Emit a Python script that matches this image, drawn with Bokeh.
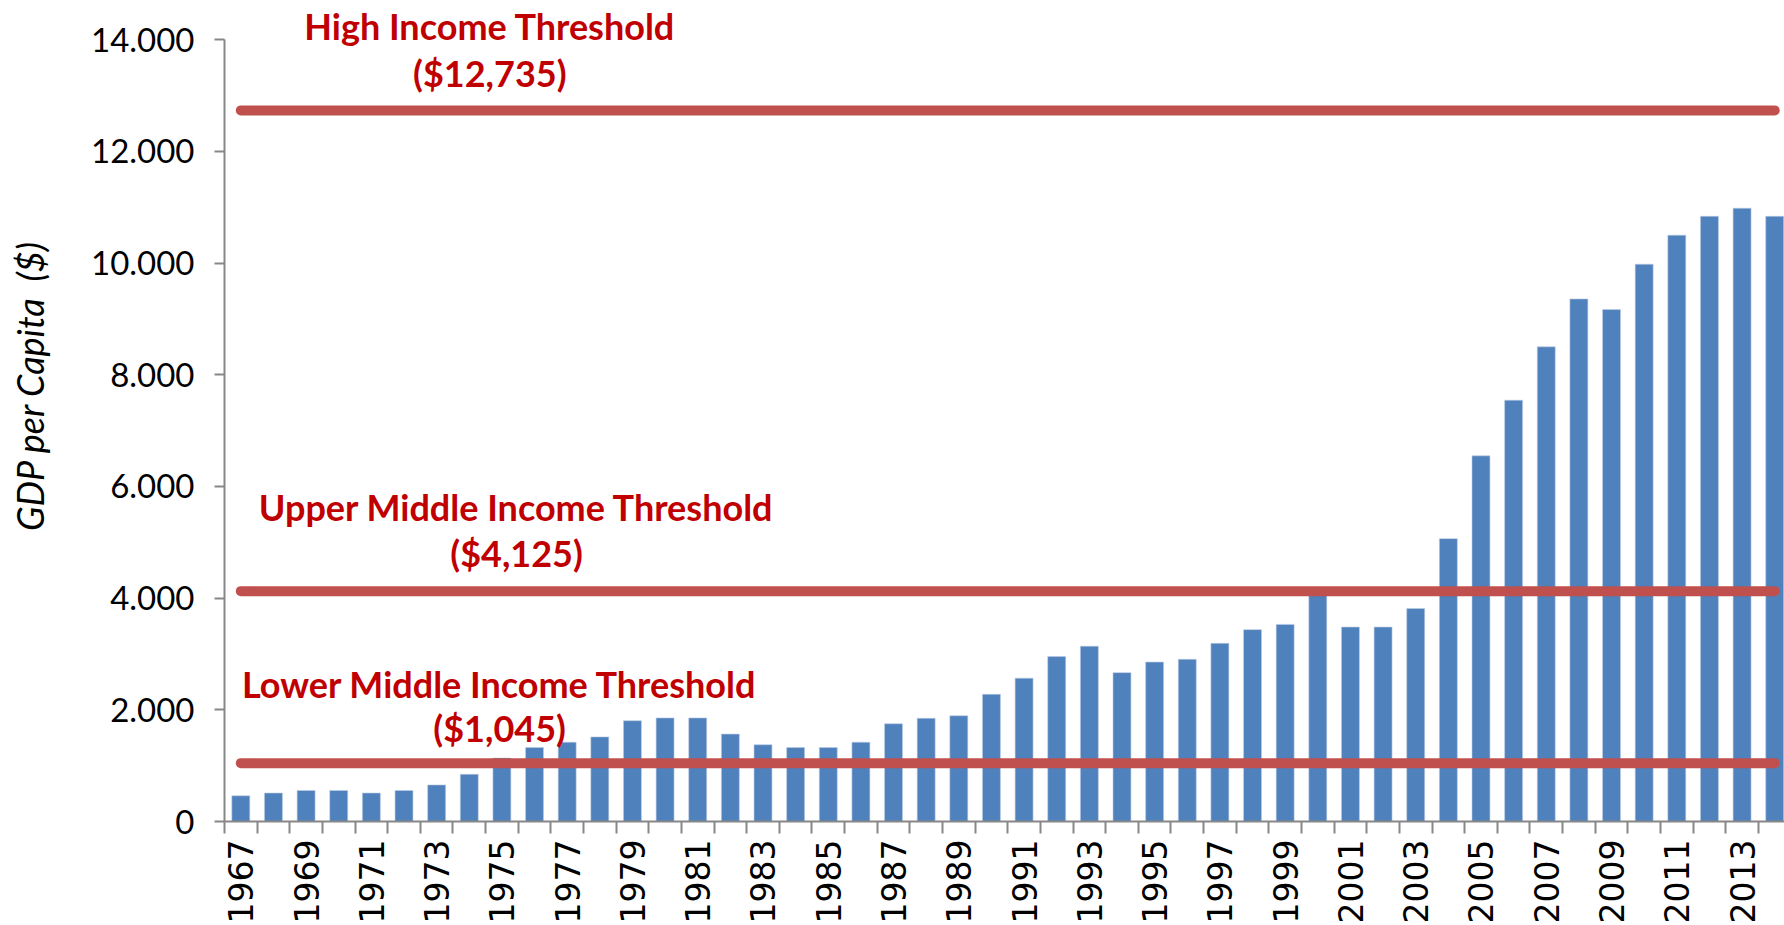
import math
from bokeh.plotting import figure
from bokeh.models import Range1d, FixedTicker, Label
from bokeh.embed import file_html
from bokeh.resources import INLINE

years = list(range(1967, 2015))
gdp = [460, 510, 555, 555, 510, 555, 655, 845, 1135, 1325,
       1420, 1515, 1805, 1855, 1855, 1565, 1375, 1325, 1325, 1420,
       1750, 1848, 1893, 2278, 2566, 2953, 3140, 2666, 2855, 2904,
       3190, 3436, 3530, 4090, 3482, 3482, 3815, 5065, 6548, 7545,
       8500, 9358, 9168, 9980, 10500, 10838, 10983, 10838]

threshold_values = [12735, 4125, 1045]
threshold_names = ["High Income Threshold", "Upper Middle Income Threshold",
                   "Lower Middle Income Threshold"]
threshold_amounts = ["($12,735)", "($4,125)", "($1,045)"]

y_ticks = [0, 2000, 4000, 6000, 8000, 10000, 12000, 14000]
y_tick_labels = ["0", "2.000", "4.000", "6.000", "8.000", "10.000", "12.000", "14.000"]
x_label_years = [y for y in years if y % 2 == 1]

FRAME_H = 821
PX_PER_UNIT = 0.05584
y_top = FRAME_H / PX_PER_UNIT

p = figure(frame_width=1560, frame_height=FRAME_H, output_backend="svg", toolbar_location=None,
           x_range=Range1d(years[0] - 0.5, years[-1] + 0.3),
           y_range=Range1d(0, y_top),
           min_border_left=224, min_border_top=0, min_border_bottom=0,
           min_border_right=0)
p.outline_line_color = None
p.xgrid.grid_line_color = None
p.ygrid.grid_line_color = None

p.vbar(x=years, top=gdp, width=0.55, color="#4F81BD", line_color="#BCCBE3", line_width=0.6)

for v in threshold_values:
    p.segment(x0=[years[0]], x1=[years[-1]], y0=[v], y1=[v], line_width=10,
              line_cap="round", line_color="#C0504D")

label_pos = [(1974.63, 14244, 13402), (1975.45, 5631, 4808), (1974.93, 2462, 1674)]
for (lx, ly1, ly2), name, amt in zip(label_pos, threshold_names, threshold_amounts):
    for txt, ly in ((name, ly1), (amt, ly2)):
        p.add_layout(Label(x=lx, y=ly, text=txt, text_align="center", text_baseline="middle",
                           text_font="Lato", text_font_style="bold", text_font_size="36px",
                           text_color="#C00000"))

# y axis
p.yaxis.bounds = (y_ticks[0], y_ticks[-1])
p.yaxis.ticker = FixedTicker(ticks=y_ticks, minor_ticks=[])
p.yaxis.major_label_overrides = {t: l for t, l in zip(y_ticks, y_tick_labels)}
p.yaxis.major_label_text_font = "Lato"
p.yaxis.major_label_text_font_size = "33px"
p.yaxis.major_label_text_color = "black"
p.yaxis.major_tick_out = 10
p.yaxis.major_tick_in = 0
p.yaxis.major_label_standoff = 20
p.yaxis.axis_line_color = "#878787"
p.yaxis.axis_line_width = 2
p.yaxis.major_tick_line_color = "#878787"
p.yaxis.major_tick_line_width = 2
p.yaxis.axis_label = "\u00a0" * 6 + "GDP per Capita\u00a0\u00a0($)"
p.yaxis.axis_label_text_font = "Lato"
p.yaxis.axis_label_text_font_style = "italic"
p.yaxis.axis_label_text_font_size = "36px"
p.yaxis.axis_label_text_color = "black"
p.yaxis.axis_label_standoff = 36

# x axis
p.xaxis.ticker = FixedTicker(ticks=x_label_years,
                             minor_ticks=[y - 0.5 for y in years] + [years[-1] + 0.5])
p.xaxis.major_label_overrides = {y: str(y) for y in x_label_years}
p.xaxis.major_label_orientation = math.pi / 2
p.xaxis.major_label_text_font = "DejaVu Sans"
p.xaxis.major_label_text_font_size = "33px"
p.xaxis.major_label_text_color = "black"
p.xaxis.major_tick_out = 0
p.xaxis.major_tick_in = 0
p.xaxis.minor_tick_out = 12
p.xaxis.minor_tick_in = 0
p.xaxis.minor_tick_line_color = "#878787"
p.xaxis.minor_tick_line_width = 2
p.xaxis.major_label_standoff = 6
p.xaxis.axis_label_standoff = 0
p.xaxis.axis_line_color = "#878787"
p.xaxis.axis_line_width = 2

open("out.html", "w").write(file_html(p, INLINE))
